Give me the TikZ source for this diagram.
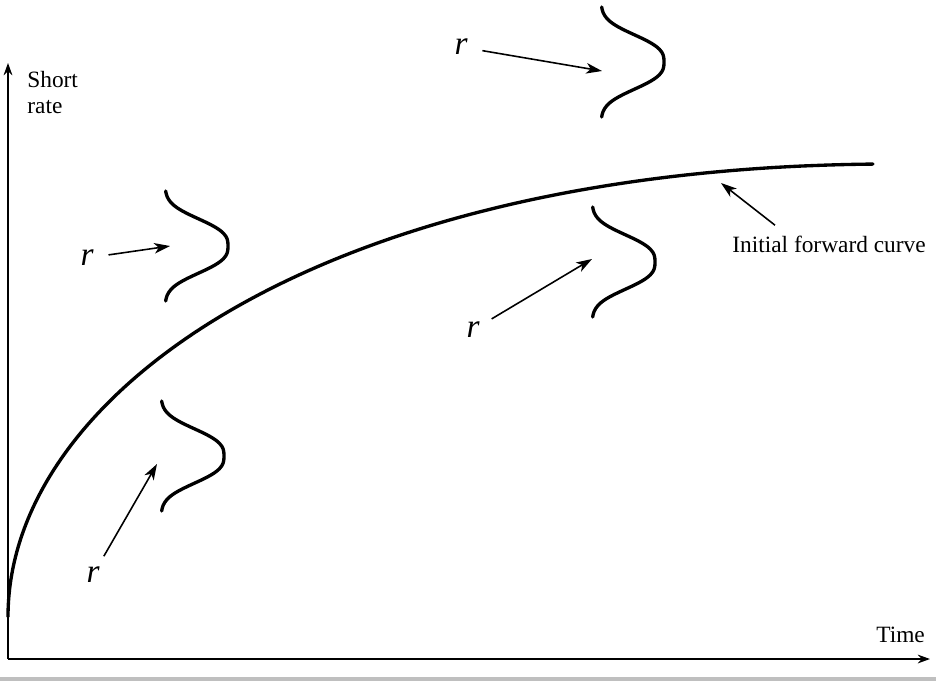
\documentclass[tikz,border=0pt]{standalone}
\usepackage{fontspec}
\setmainfont{Liberation Serif}
\usetikzlibrary{arrows.meta}

\begin{document}
\begin{tikzpicture}[x=0.02cm,y=-0.02cm,
  every node/.style={font=\fontsize{13.3}{14.8}\selectfont},
  rlab/.style={circle,inner sep=4.5pt,font=\fontsize{19}{22}\selectfont\itshape},
  axe/.style={line width=0.9pt,-{Stealth[length=7pt,width=5pt]}},
  fleche/.style={line width=0.9pt,-{Stealth[length=9pt,width=6pt,inset=2.5pt]}},
  courbe/.style={line width=1.9pt,line cap=round},
  pics/densite/.style={code={
    \draw[courbe] plot[domain=-55:55,samples=40,smooth,variable=\t]
      ({63*exp(-pow(abs(\t)/32,2.8))},\t);}}]

\useasboundingbox (0,0) rectangle (936,681);
\fill[black!25] (0,677) rectangle (936,681);

% axes
\coordinate (O) at (8,659);
\coordinate (yhaut) at (8,63);
\coordinate (xbout) at (930,659);
\draw[axe] (O) -- (yhaut);
\draw[axe] (O) -- (xbout);
\node[anchor=north west,inner sep=0pt,align=left] (taux) at (27,71) {Short\\rate};
\node[anchor=base west,inner sep=0pt] (temps) at (876,642) {Time};

% courbe initiale
\draw[courbe] plot[domain=0.01:29.41,samples=120,smooth,variable=\s]
  ({8+\s*\s},{617-22*\s+5.89*pow(\s*\s/100,1.62)});
\coordinate (c1) at (721,183);
\node[anchor=base west,inner sep=0pt] (fwd) at (732,252) {Initial forward curve};
\draw[fleche] ([shift={(43,-10)}]fwd.north west) -- (c1);

% densites
\pic at (601,62) {densite};
\pic at (165,246) {densite};
\pic at (592,262) {densite};
\pic at (161,456) {densite};

% fleches r
\node[rlab] (r1) at (461,47) {r};
\node[rlab] (r2) at (87,258) {r};
\node[rlab] (r3) at (473,330) {r};
\node[rlab] (r4) at (93,575) {r};
\coordinate (p1) at (602,71);
\coordinate (p2) at (170,246);
\coordinate (p3) at (592,259);
\coordinate (p4) at (157,464);
\draw[fleche] (r1) -- (p1);
\draw[fleche] (r2) -- (p2);
\draw[fleche] (r3) -- (p3);
\draw[fleche] (r4) -- (p4);
\end{tikzpicture}
\end{document}
